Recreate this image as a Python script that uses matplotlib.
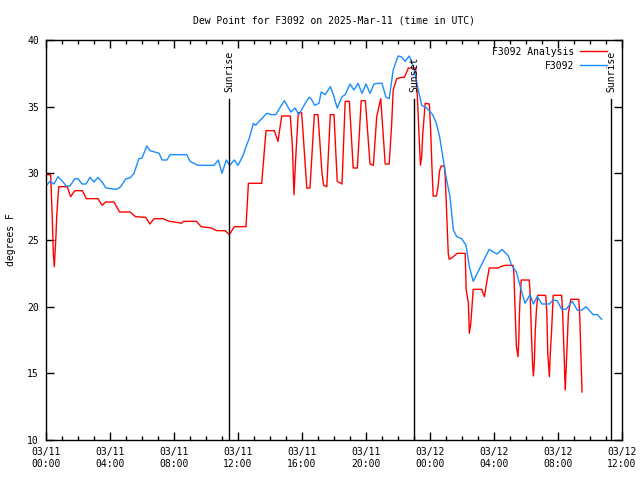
import matplotlib
matplotlib.use('Agg')
from matplotlib import pyplot as plt
from matplotlib.ticker import MultipleLocator

# hours since 2025-03-11 00:00 UTC
obs_hours = [0.0, 0.25, 0.5, 0.75, 1.1, 1.25, 1.5, 1.8, 2.0, 2.25,
             2.5, 2.75, 3.0, 3.25, 3.5, 3.75, 4.4, 4.67, 5.0, 5.25,
             5.5, 5.8, 6.0, 6.3, 6.5, 6.8, 7.07, 7.25, 7.56, 7.75,
             8.8, 9.0, 9.5, 10.5, 10.77, 11.0, 11.27, 11.48, 11.77, 12.0,
             12.3, 12.5, 12.7, 12.96, 13.1, 13.4, 13.8, 14.1, 14.35, 14.9,
             15.3, 15.56, 15.8,
             16.2, 16.44, 16.56, 16.8, 17.06, 17.2, 17.44, 17.77, 17.96, 18.2,
             18.5, 18.7, 19.0, 19.25, 19.5, 19.75, 20.0, 20.25, 20.5, 20.75,
             21.0, 21.25, 21.45, 21.7, 22.0, 22.2, 22.45, 22.7, 22.96, 23.27,
             23.48, 23.8, 24.17, 24.4, 24.6, 24.8, 25.0, 25.25, 25.46, 25.67,
             25.98, 26.25, 26.46, 26.7, 27.7, 27.96, 28.2, 28.5, 28.9, 29.1,
             29.4, 29.7, 29.94, 30.25, 30.46, 30.7, 31.0, 31.46, 31.7, 31.95,
             32.23, 32.5, 32.9, 33.2, 33.5, 33.75, 34.2, 34.46, 34.73]
obs_dewpt = [29.05, 29.4, 29.2, 29.75, 29.3, 29.05, 29.05, 29.6, 29.6, 29.2,
             29.2, 29.7, 29.35, 29.7, 29.35, 28.9, 28.8, 29.0, 29.6, 29.65,
             30.0, 31.1, 31.15, 32.05, 31.7, 31.6, 31.5, 31.0, 31.0, 31.4,
             31.4, 30.9, 30.6, 30.6, 31.0, 30.0, 31.0, 30.6, 31.0, 30.6,
             31.3, 32.0, 32.6, 33.75, 33.6, 34.0, 34.5, 34.4, 34.4, 35.45,
             34.6, 34.9, 34.4,
             35.25, 35.7, 35.6, 35.1, 35.25, 36.1, 35.9, 36.5, 35.9, 34.9,
             35.75, 35.9, 36.7, 36.25, 36.75, 36.0, 36.7, 36.0, 36.7, 36.75,
             36.75, 35.7, 35.6, 37.75, 38.8, 38.75, 38.4, 38.8, 38.0, 36.25,
             35.1, 34.9, 34.4, 33.75, 32.75, 31.25, 29.75, 28.25, 25.75, 25.25,
             25.1, 24.6, 23.0, 21.9, 24.3, 24.1, 23.95, 24.3, 23.8, 23.1,
             22.6, 21.25, 20.25, 20.9, 20.2, 20.75, 20.2, 20.2, 20.5, 20.45,
             19.8, 19.8, 20.4, 19.75, 19.75, 20.0, 19.4, 19.4, 19.05]

ana_hours = [0.0, 0.29, 0.375, 0.46, 0.52, 0.625, 0.67, 0.75, 0.8, 1.33,
             1.54, 1.8, 2.27, 2.52, 3.25, 3.5, 3.73, 4.25, 4.6, 5.25,
             5.6, 6.23, 6.5, 6.75, 7.33, 7.7, 8.3, 8.46, 8.6, 9.4,
             9.7, 10.35, 10.67, 11.2, 11.46, 11.77, 12.5, 12.65, 13.48, 13.75,
             14.27, 14.5, 14.73, 15.27, 15.4, 15.5, 15.6, 15.77, 15.98, 16.15,
             16.3, 16.5, 16.77, 17.0, 17.25, 17.35, 17.55, 17.77, 18.0, 18.2,
             18.5, 18.7, 18.96, 19.2, 19.46, 19.7, 19.96, 20.25, 20.46, 20.67,
             20.92, 21.2, 21.45, 21.6, 21.7, 21.92, 22.23, 22.4, 22.65, 23.1,
             23.2, 23.33, 23.4, 23.48, 23.55, 23.7, 23.96, 24.05, 24.12, 24.2,
             24.4, 24.5, 24.6, 24.7, 24.9, 24.96, 25.04, 25.14, 25.2, 25.46,
             25.7, 26.2, 26.26, 26.4, 26.46, 26.55, 26.7, 27.23, 27.4, 27.5,
             27.7, 28.27, 28.4, 28.7, 29.2, 29.25, 29.3, 29.35, 29.4, 29.5,
             29.55, 29.6, 29.7, 30.2, 30.25, 30.35, 30.41, 30.46, 30.52, 30.58,
             30.65, 30.73, 31.23, 31.3, 31.36, 31.46, 31.52, 31.6, 31.7, 32.23,
             32.29, 32.38, 32.45, 32.55, 32.65, 32.8, 33.3, 33.36, 33.44, 33.48,
             33.5]
ana_dewpt = [29.9, 29.9, 27.25, 23.9, 23.0, 25.4, 26.75, 28.25, 29.0, 29.0,
             28.25, 28.7, 28.7, 28.1, 28.1, 27.6, 27.85, 27.85, 27.1, 27.1,
             26.75, 26.7, 26.2, 26.6, 26.6, 26.4, 26.3, 26.25, 26.4, 26.4,
             26.0, 25.9, 25.7, 25.7, 25.4, 26.0, 26.0, 29.25, 29.25, 33.2,
             33.2, 32.4, 34.3, 34.3, 32.0, 28.4, 31.0, 34.55, 34.55, 31.5,
             28.9, 28.9, 34.4, 34.4, 30.0, 29.1, 29.0, 34.4, 34.4, 29.4,
             29.2, 35.4, 35.4, 30.4, 30.4, 35.45, 35.45, 30.7, 30.6, 34.25,
             35.6, 30.7, 30.7, 33.6, 36.25, 37.1, 37.2, 37.2, 37.9, 37.9,
             36.0, 32.5, 30.6, 31.25, 33.0, 35.25, 35.2, 33.0, 30.5, 28.3,
             28.3, 29.0, 30.2, 30.55, 30.55, 29.5, 27.0, 24.0, 23.55, 23.75,
             24.0, 24.0, 21.3, 20.25, 18.0, 18.75, 21.3, 21.3, 20.75, 21.5,
             22.9, 22.9, 23.0, 23.1, 23.1, 22.3, 20.4, 18.8, 17.0, 16.25,
             17.5, 19.9, 22.0, 22.0, 21.2, 17.6, 15.75, 14.8, 15.75, 18.2,
             19.7, 20.85, 20.85, 19.6, 16.5, 14.75, 16.5, 18.2, 20.85, 20.85,
             19.5, 16.5, 13.75, 16.5, 19.5, 20.55, 20.55, 19.25, 16.25, 14.5,
             13.6]

event_hours = [11.46, 23.02, 35.31]
event_names = ['Sunrise', 'Sunset', 'Sunrise']

tick_hours = [0, 4, 8, 12, 16, 20, 24, 28, 32, 36]
tick_labels = ['03/11\n00:00', '03/11\n04:00', '03/11\n08:00', '03/11\n12:00',
               '03/11\n16:00', '03/11\n20:00', '03/12\n00:00', '03/12\n04:00',
               '03/12\n08:00', '03/12\n12:00']

plt.rcParams['font.family'] = ['DejaVu Sans Mono']
plt.rcParams['font.size'] = 7

fig = plt.figure(figsize=(6.4, 4.8), dpi=100)
ax = fig.add_axes([46 / 640, 40 / 480, 576 / 640, 400 / 480])

ax.plot(ana_hours, ana_dewpt, color='#ff0000', lw=1.0, label='F3092 Analysis')
ax.plot(obs_hours, obs_dewpt, color='#1a8cff', lw=1.0, label='F3092')

for h, name in zip(event_hours, event_names):
    ax.plot([h, h], [10, 35.6], color='black', lw=1.0)
    ax.text(h, 36.1, name, rotation=90, ha='center', va='bottom', fontsize=7)

ax.set_xlim(0, 36)
ax.set_ylim(10, 40)
ax.set_xticks(tick_hours)
ax.set_xticklabels(tick_labels)
ax.xaxis.set_minor_locator(MultipleLocator(1))
ax.yaxis.set_major_locator(MultipleLocator(5))
ax.tick_params(which='both', direction='in', top=True, right=True, width=1.0)
ax.tick_params(which='major', length=6, pad=5)
ax.tick_params(which='minor', length=3)
for s in ax.spines.values():
    s.set_linewidth(1.0)

ax.set_title('Dew Point for F3092 on 2025-Mar-11 (time in UTC)', fontsize=7, pad=12)
ax.set_ylabel('degrees F', labelpad=8)

ax.legend(loc='upper right', frameon=False, markerfirst=False, fontsize=7,
          handlelength=2.7, handletextpad=0.6, labelspacing=0.4,
          borderaxespad=0.3, bbox_to_anchor=(0.985, 1.0))

fig.savefig('out.png', dpi=100)
